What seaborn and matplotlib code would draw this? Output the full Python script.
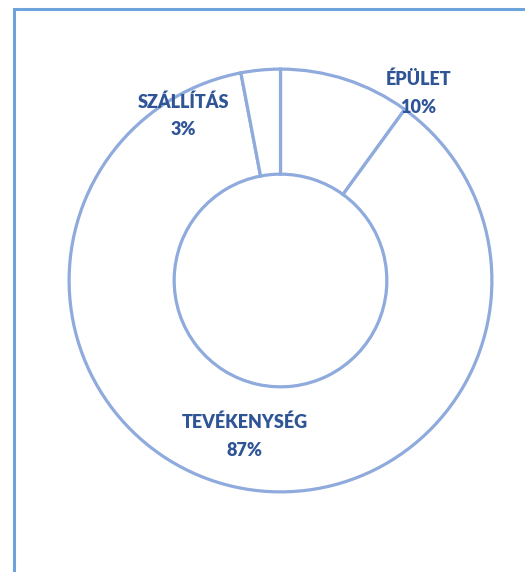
import matplotlib
matplotlib.use("Agg")
import matplotlib.pyplot as plt
import seaborn as sns
from matplotlib.patches import Rectangle

# data of the donut, clockwise from the top
categories = ["ÉPÜLET", "TEVÉKENYSÉG", "SZÁLLÍTÁS"]
shares = [10, 87, 3]
label_pos = [(0.653, 0.885), (-0.169, -0.737), (-0.46, 0.78)]

sns.set_theme(style="white")
plt.rcParams['font.family'] = ['Lato', 'DejaVu Sans']

fig = plt.figure(figsize=(5.25, 5.72), dpi=100)
fig.patch.set_facecolor("white")

# light blue frame, only top and left edges are visible
fig.patches.append(Rectangle((14 / 525, -0.05), 1.1, (572 - 9) / 572 + 0.05,
                             transform=fig.transFigure, fill=False,
                             edgecolor="#6FA3DC", linewidth=2.2))

ax = fig.add_axes([67 / 525, (572 - 494) / 572, 427 / 525, 427 / 572])
ax.pie(shares, startangle=90, counterclock=False, radius=1,
       colors=["white"] * len(shares),
       wedgeprops=dict(width=0.497, edgecolor="#8FAADC", linewidth=2.3))
ax.set_xlim(-1.01, 1.01)
ax.set_ylim(-1.01, 1.01)
ax.set_aspect("equal")
ax.axis("off")

for name, val, (x, y) in zip(categories, shares, label_pos):
    ax.text(x, y, f"{name}\n{val}%", ha="center", va="center",
            fontsize=13, fontweight="heavy", color="#2F5597",
            linespacing=1.75)

fig.savefig("out.png", dpi=100)
